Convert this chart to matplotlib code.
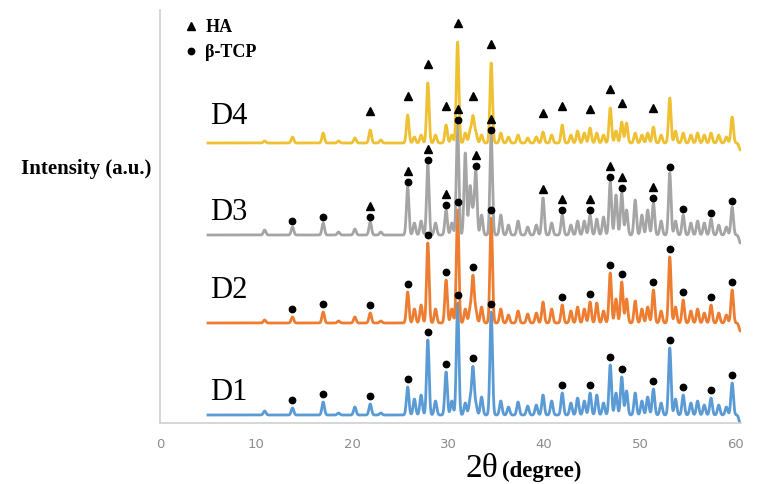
import numpy as np
import matplotlib
matplotlib.use("Agg")
import matplotlib.pyplot as plt
from matplotlib.lines import Line2D

# reflection positions (2theta, degree) shared by the four patterns
peak_pos = [10.9, 13.8, 17.0, 18.6, 20.3, 21.9, 23.0, 25.8, 26.5, 27.2,
            27.9, 28.7, 29.8, 30.4, 31.0, 31.8, 32.3, 32.6, 32.9, 33.5,
            34.5, 35.5, 36.3, 37.3, 38.3, 39.2, 39.9, 40.8, 41.9, 42.8,
            43.5, 44.2, 44.8, 45.5, 46.2, 46.9, 47.5, 48.1, 48.6, 49.5,
            50.2, 50.8, 51.4, 52.2, 53.1, 53.7, 54.5, 55.3, 56.0, 56.7,
            57.4, 58.2, 59.0, 59.6, 60.45]

# peak intensities (a.u.)
d1_int = [4, 7, 13, 2, 8, 11, 2, 28, 16, 20,
          75, 14, 43, 14, 112, 12, 14, 47, 10, 18,
          103, 14, 8, 13, 9, 10, 20, 14, 22, 12,
          17, 14, 22, 20, 12, 50, 22, 38, 24, 22,
          14, 18, 26, 12, 67, 16, 20, 12, 14, 10,
          17, 10, 8, 32, -9]
d2_int = [3, 6, 11, 2, 6, 10, 2, 31, 14, 18,
          80, 14, 43, 14, 113, 14, 14, 46, 12, 16,
          105, 14, 8, 12, 9, 10, 21, 14, 18, 12,
          16, 14, 21, 20, 12, 50, 24, 41, 24, 22,
          14, 16, 33, 12, 66, 16, 23, 12, 14, 10,
          18, 10, 8, 33, -8]
d3_int = [5, 8, 12, 3, 6, 13, 3, 48, 12, 14,
          70, 12, 25, 12, 110, 82, 48, 20, 63, 20,
          100, 20, 10, 14, 8, 10, 37, 12, 20, 10,
          14, 14, 20, 16, 18, 53, 40, 42, 25, 35,
          20, 25, 32, 14, 62, 14, 20, 12, 14, 12,
          16, 10, 8, 28, -8]
d4_int = [2, 6, 10, 2, 5, 13, 3, 28, 6, 8,
          60, 8, 18, 8, 101, 10, 12, 26, 10, 8,
          80, 10, 6, 8, 5, 6, 11, 8, 18, 8,
          12, 10, 15, 10, 8, 35, 12, 21, 20, 10,
          8, 10, 16, 8, 45, 12, 10, 8, 10, 8,
          10, 8, 6, 26, -7]

names = ["D1", "D2", "D3", "D4"]
offsets = [8, 100, 188, 280]
label_y = [31, 132, 211, 306]
colors = ["#5b9bd5", "#ed7d31", "#a5a5a5", "#efc032"]

# phase marks per pattern (2theta)
d1_tcp = [13.8, 17.0, 21.9, 25.8, 27.9, 29.8, 31.0, 32.6, 34.5,
          41.9, 44.8, 46.9, 48.1, 51.4, 53.1, 54.5, 57.4, 59.6]
d2_tcp = [13.8, 17.0, 21.9, 25.8, 27.9, 29.8, 31.0, 32.6, 34.5,
          41.9, 44.8, 46.9, 48.1, 51.4, 53.1, 54.5, 57.4, 59.6]
d3_both = [21.9, 25.8, 27.9, 29.8, 31.0, 32.9, 34.5, 41.9, 44.8, 46.9, 48.1, 51.4]
d3_tcp = [13.8, 17.0, 53.1, 54.5, 57.4, 59.6]
d3_ha = [39.9]
d4_ha = [21.9, 25.8, 27.9, 29.8, 31.0, 32.6, 34.5, 39.9, 41.9, 44.8, 46.9, 48.1, 51.4]

SERIF = ["Liberation Serif", "DejaVu Serif"]
tt = np.arange(5.0, 60.5, 0.02)


def pattern(intensities, width=0.13):
    y = np.zeros_like(tt)
    for p, h in zip(peak_pos, intensities):
        y += h * np.exp(-0.5 * ((tt - p) / width) ** 2)
    return y


def top_at(curve, x, win=0.2):
    m = (tt > x - win) & (tt < x + win)
    return curve[m].max()


fig = plt.figure(figsize=(7.61, 4.84), dpi=100)
ax = fig.add_axes([160 / 761, 61 / 484, 580.8 / 761, 413 / 484])
ax.set_xlim(0, 60.5)
ax.set_ylim(0, 413)

curves = []
for ints, off, col in zip([d1_int, d2_int, d3_int, d4_int], offsets, colors):
    c = off + pattern(ints)
    curves.append(c)
    ax.plot(tt, c, color=col, lw=2.0, solid_joinstyle="round")

mk = dict(color="black", ls="none", zorder=5)
tri, circ = 5.2, 4.6

for curve, tcp in [(curves[0], d1_tcp), (curves[1], d2_tcp)]:
    ys = [top_at(curve, x) + 8 for x in tcp]
    ax.plot(tcp, ys, marker="o", ms=circ, **mk)

c3 = curves[2]
ax.plot(d3_both, [top_at(c3, x) + 5 for x in d3_both], marker="o", ms=circ, **mk)
ax.plot(d3_both, [top_at(c3, x) + 16 for x in d3_both], marker="^", ms=tri, **mk)
ax.plot(d3_tcp, [top_at(c3, x) + 6 for x in d3_tcp], marker="o", ms=circ, **mk)
ax.plot(d3_ha, [top_at(c3, x) + 9 for x in d3_ha], marker="^", ms=tri, **mk)

c4 = curves[3]
ax.plot(d4_ha, [top_at(c4, x) + 19 for x in d4_ha], marker="^", ms=tri, **mk)

for name, ly in zip(names, label_y):
    ax.text(7.2, ly, name, fontsize=22, family=SERIF, ha="center", va="center")

handles = [Line2D([], [], marker="^", ms=tri, color="black", ls="none"),
           Line2D([], [], marker="o", ms=circ, color="black", ls="none")]
ax.legend(handles, ["HA", "β-TCP"], loc="upper left", bbox_to_anchor=(0.022, 1.0),
          frameon=False, borderpad=0, handlelength=1.0, handletextpad=0.3,
          labelspacing=0.45, prop={"family": SERIF, "weight": "bold", "size": 13})

for s in ["top", "right"]:
    ax.spines[s].set_visible(False)
ax.spines["left"].set_color("#d0d0d0")
ax.spines["bottom"].set_color("#d0d0d0")
ax.spines["left"].set_linewidth(1.2)
ax.spines["bottom"].set_linewidth(1.2)
ax.set_yticks([])
ax.set_xticks(range(0, 61, 10))
ax.tick_params(axis="x", length=0, pad=11, labelcolor="#8c8c8c", labelsize=9.5)

fig.text(86 / 761, 1 - 169 / 484, "Intensity (a.u.)", ha="center", va="center",
         family=SERIF, weight="bold", fontsize=15)
fig.text(498 / 761, 1 - 477 / 484, "2θ", ha="right", va="baseline",
         family=SERIF, fontsize=24)
fig.text(502 / 761, 1 - 477 / 484, "(degree)", ha="left", va="baseline",
         family=SERIF, weight="bold", fontsize=16.5)

fig.savefig("out.png", dpi=100)
